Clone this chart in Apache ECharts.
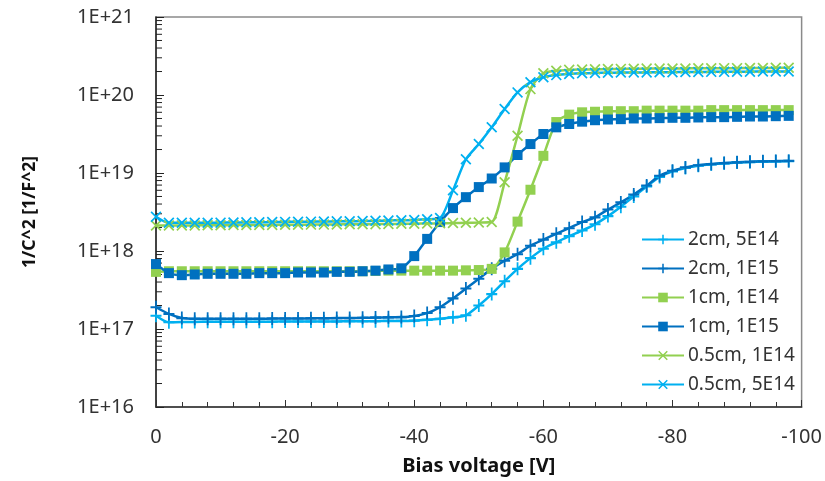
<!DOCTYPE html>
<html>
<head>
<meta charset="utf-8">
<script src="https://cdn.jsdelivr.net/npm/echarts@6/dist/echarts.min.js"></script>
<style>html,body{margin:0;padding:0;background:#fff}#c{width:825px;height:481px}</style>
</head>
<body>
<div id="c"></div>
<script>
// Bias voltage [V]
var voltages = [0,-2,-4,-6,-8,-10,-12,-14,-16,-18,-20,-22,-24,-26,-28,-30,-32,-34,-36,-38,-40,-42,-44,-46,-48,-50,-52,-54,-56,-58,-60,-62,-64,-66,-68,-70,-72,-74,-76,-78,-80,-82,-84,-86,-88,-90,-92,-94,-96,-98];

var cm2_5E14 = [1.48e17,1.22e17,1.23e17,1.23e17,1.24e17,1.24e17,1.24e17,1.24e17,1.24e17,1.24e17,1.25e17,1.25e17,1.25e17,1.25e17,1.25e17,1.26e17,1.26e17,1.26e17,1.27e17,1.27e17,1.28e17,1.31e17,1.35e17,1.41e17,1.5e17,2.0e17,2.8e17,4.1e17,5.9e17,8.1e17,1.07e18,1.29e18,1.55e18,1.83e18,2.2e18,2.8e18,3.7e18,5.0e18,6.7e18,8.9e18,1.05e19,1.16e19,1.24e19,1.29e19,1.33e19,1.36e19,1.38e19,1.4e19,1.41e19,1.42e19];

var cm2_1E15 = [1.9e17,1.56e17,1.38e17,1.35e17,1.35e17,1.35e17,1.35e17,1.35e17,1.35e17,1.36e17,1.36e17,1.36e17,1.37e17,1.37e17,1.38e17,1.38e17,1.39e17,1.4e17,1.41e17,1.42e17,1.47e17,1.6e17,1.9e17,2.47e17,3.3e17,4.4e17,5.9e17,7.5e17,9.1e17,1.17e18,1.4e18,1.66e18,1.96e18,2.35e18,2.7e18,3.4e18,4.2e18,5.3e18,6.9e18,9.2e18,1.07e19,1.18e19,1.26e19,1.3e19,1.34e19,1.37e19,1.39e19,1.41e19,1.42e19,1.43e19];

var cm1_1E14 = [5.4e17,5.5e17,5.5e17,5.5e17,5.5e17,5.5e17,5.5e17,5.5e17,5.5e17,5.5e17,5.5e17,5.5e17,5.5e17,5.5e17,5.5e17,5.5e17,5.5e17,5.55e17,5.6e17,5.6e17,5.6e17,5.6e17,5.6e17,5.6e17,5.65e17,5.7e17,5.9e17,9.6e17,2.38e18,6.1e18,1.66e19,4.5e19,5.6e19,6.0e19,6.1e19,6.2e19,6.2e19,6.2e19,6.3e19,6.3e19,6.3e19,6.3e19,6.3e19,6.4e19,6.4e19,6.4e19,6.4e19,6.4e19,6.4e19,6.4e19];

var cm1_1E15 = [6.8e17,5.2e17,4.9e17,5.0e17,5.1e17,5.1e17,5.1e17,5.1e17,5.2e17,5.2e17,5.2e17,5.3e17,5.3e17,5.3e17,5.4e17,5.4e17,5.5e17,5.6e17,5.8e17,6.0e17,8.6e17,1.43e18,2.35e18,3.55e18,4.9e18,6.6e18,8.5e18,1.18e19,1.7e19,2.35e19,3.16e19,3.85e19,4.25e19,4.55e19,4.75e19,4.85e19,4.9e19,5.0e19,5.0e19,5.05e19,5.1e19,5.1e19,5.15e19,5.2e19,5.2e19,5.25e19,5.3e19,5.3e19,5.35e19,5.4e19];

var cm05_1E14 = [2.12e18,2.12e18,2.13e18,2.13e18,2.14e18,2.14e18,2.15e18,2.15e18,2.16e18,2.16e18,2.17e18,2.17e18,2.18e18,2.18e18,2.19e18,2.2e18,2.2e18,2.21e18,2.22e18,2.23e18,2.24e18,2.25e18,2.27e18,2.28e18,2.3e18,2.32e18,2.35e18,7.6e18,3.0e19,1.19e20,1.9e20,2.05e20,2.1e20,2.12e20,2.14e20,2.15e20,2.16e20,2.17e20,2.18e20,2.18e20,2.19e20,2.19e20,2.2e20,2.2e20,2.21e20,2.21e20,2.22e20,2.22e20,2.23e20,2.24e20];

var cm05_5E14 = [2.75e18,2.3e18,2.3e18,2.3e18,2.3e18,2.31e18,2.32e18,2.33e18,2.34e18,2.35e18,2.36e18,2.37e18,2.38e18,2.39e18,2.4e18,2.41e18,2.42e18,2.44e18,2.46e18,2.48e18,2.5e18,2.55e18,2.65e18,6.0e18,1.5e19,2.35e19,3.85e19,6.6e19,1.08e20,1.46e20,1.69e20,1.8e20,1.86e20,1.9e20,1.92e20,1.93e20,1.94e20,1.95e20,1.95e20,1.96e20,1.96e20,1.97e20,1.97e20,1.98e20,1.98e20,1.99e20,1.99e20,2.0e20,2.0e20,2.0e20];

var seriesNames = ['2cm, 5E14','2cm, 1E15','1cm, 1E14','1cm, 1E15','0.5cm, 1E14','0.5cm, 5E14'];
var yTickLabels = ['1E+16','1E+17','1E+18','1E+19','1E+20','1E+21'];
var xTickLabels = ['0','-20','-40','-60','-80','-100'];

var LIGHT = '#00B0F0', DARK = '#0070C0', GREEN = '#92D050';
var PLUS = 'path://M4.2,0H5.8V4.2H10V5.8H5.8V10H4.2V5.8H0V4.2H4.2Z';
var CROSS = 'path://M0,1.1L1.1,0L5,3.9L8.9,0L10,1.1L6.1,5L10,8.9L8.9,10L5,6.1L1.1,10L0,8.9L3.9,5Z';
var FONT = 'Noto Sans';

function pairs(vals){ return voltages.map(function(v,i){ return [v, vals[i]]; }); }

function mkSeries(name, vals, color, symbol, size){
  return {
    name: name, type: 'line', data: pairs(vals),
    symbol: symbol, symbolSize: size, showSymbol: true,
    smooth: 0.25,
    lineStyle: {color: color, width: 2.5},
    itemStyle: {color: color},
    emphasis: {disabled: true},
    animation: false, z: 3
  };
}

// minor tick values on the log axis (2..9 x 10^k)
var minorVals = [];
for (var k = 16; k < 21; k++) for (var m = 2; m <= 9; m++) minorVals.push([0, m * Math.pow(10, k)]);

var chart = echarts.init(document.getElementById('c'), null, {renderer: 'canvas'});
chart.setOption({
  animation: false,
  backgroundColor: '#fff',
  textStyle: {fontFamily: FONT},
  grid: {left: 156, right: 19, top: 17, bottom: 73, show: true, borderColor: '#8a8a8a', borderWidth: 1.5},
  xAxis: {
    type: 'value', min: -100, max: 0, interval: 20, inverse: true,
    name: 'Bias voltage [V]', nameLocation: 'middle', nameGap: 49,
    nameTextStyle: {fontFamily: FONT, fontSize: 20, fontWeight: 'bold', color: '#111'},
    axisLine: {show: true, onZero: false, lineStyle: {color: '#333', width: 1.5}},
    axisTick: {show: true, inside: true, length: 7, lineStyle: {color: '#333'}},
    minorTick: {show: true, splitNumber: 5, length: 5, lineStyle: {color: '#333'}},
    splitLine: {show: false},
    axisLabel: {fontFamily: FONT, fontSize: 20, color: '#333', margin: 20,
      formatter: function(v){ var i = Math.round(-v/20); return xTickLabels[i]; }}
  },
  yAxis: {
    type: 'log', logBase: 10, min: 1e16, max: 1e21,
    name: '1/C^2 [1/F^2]', nameLocation: 'middle', nameGap: 117, nameRotate: 90,
    nameTextStyle: {fontFamily: FONT, fontSize: 17.6, fontWeight: 'bold', color: '#111'},
    axisLine: {show: true, onZero: false, lineStyle: {color: '#222', width: 1.5}},
    axisTick: {show: true, inside: true, length: 8, lineStyle: {color: '#222'}},
    splitLine: {show: false},
    axisLabel: {fontFamily: FONT, fontSize: 20, color: '#333', margin: 22,
      formatter: function(v){ var e = Math.round(Math.log10(v)); return yTickLabels[e-16]; }}
  },
  legend: {
    orient: 'vertical', left: 641, top: 230, padding: 0,
    itemWidth: 42, itemHeight: 12, itemGap: 10,
    data: seriesNames,
    textStyle: {fontFamily: FONT, fontSize: 19, color: '#333', padding: [0,0,0,-1]}
  },
  series: [
    mkSeries(seriesNames[0], cm2_5E14, LIGHT, PLUS, [11,13]),
    mkSeries(seriesNames[1], cm2_1E15, DARK, PLUS, [11,13]),
    mkSeries(seriesNames[2], cm1_1E14, GREEN, 'rect', 10),
    mkSeries(seriesNames[3], cm1_1E15, DARK, 'rect', 10),
    mkSeries(seriesNames[4], cm05_1E14, GREEN, CROSS, 11),
    mkSeries(seriesNames[5], cm05_5E14, LIGHT, CROSS, 11),
    {
      type: 'custom', name: 'minorTicks', data: minorVals, clip: false, silent: true, z: 2,
      encode: {x: 0, y: 1},
      renderItem: function(params, api){
        var p = api.coord([0, api.value(1)]);
        return {type: 'line', shape: {x1: p[0], y1: p[1], x2: p[0] + 6, y2: p[1]},
          style: {stroke: '#222', lineWidth: 1}};
      }
    }
  ]
});
</script>
</body>
</html>
